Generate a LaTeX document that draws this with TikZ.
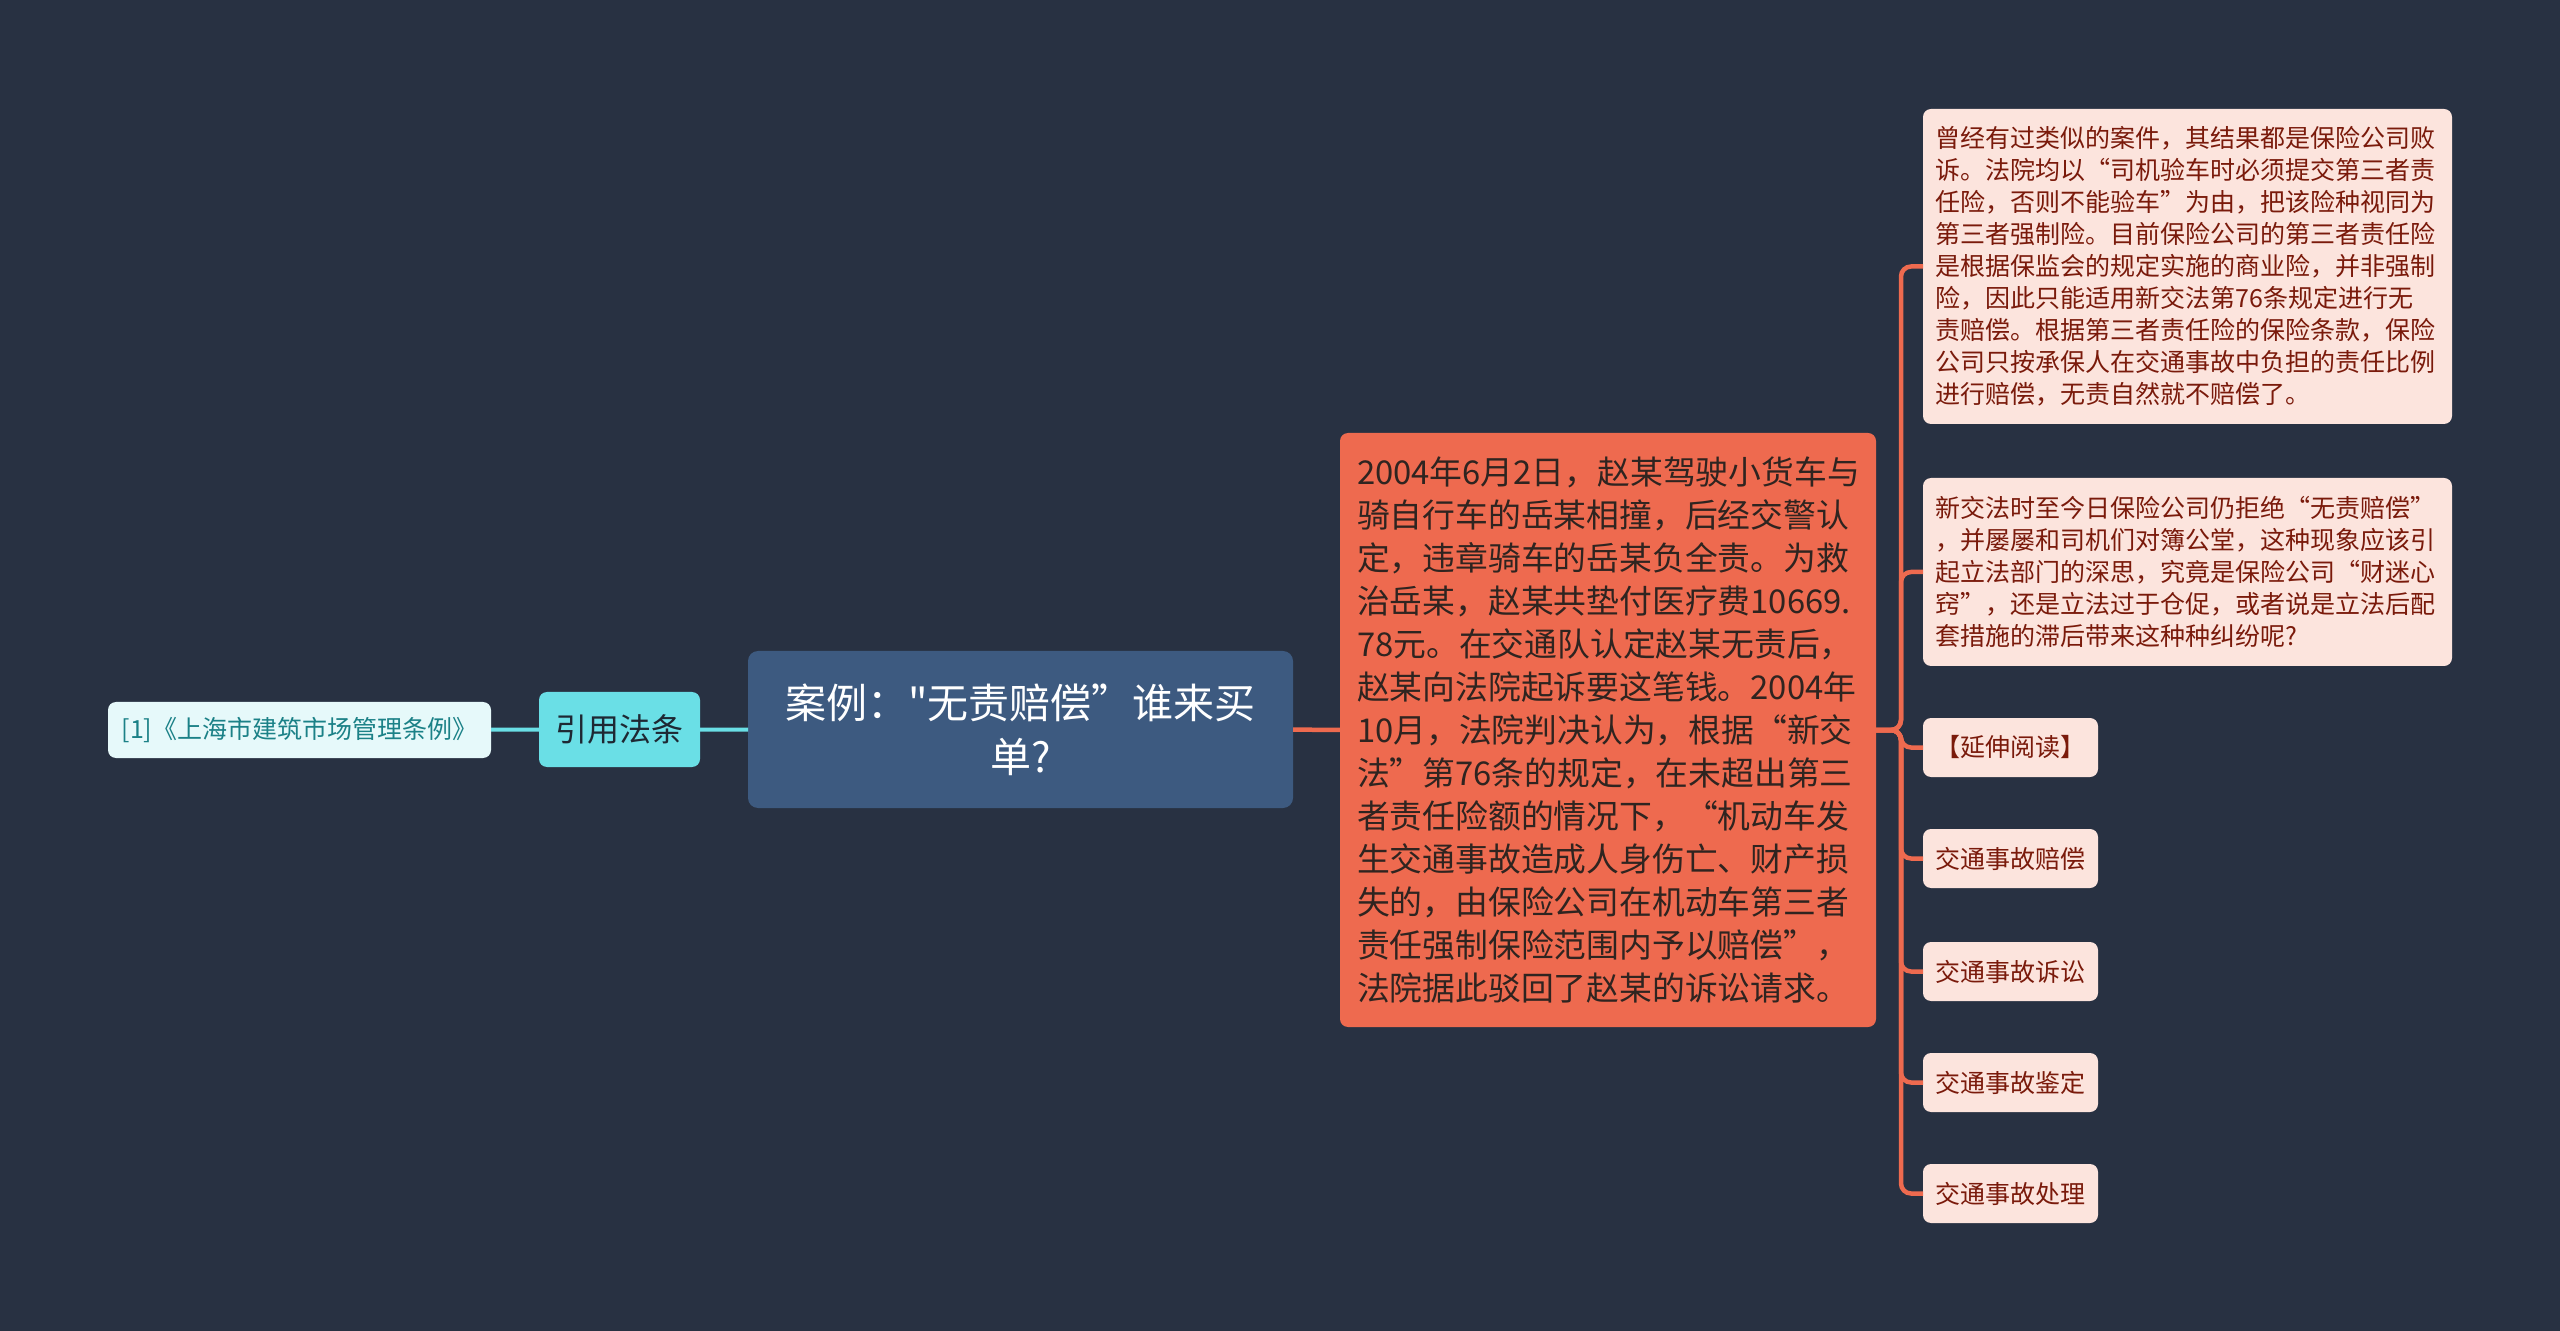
\documentclass[tikz,border=0pt]{standalone}
\usepackage{fontspec}
\setmainfont{Noto Sans CJK SC}
\newfontfamily\plainfont{Noto Sans CJK SC}
\definecolor{bgc}{HTML}{283142}
\definecolor{rootc}{HTML}{3D5A80}
\definecolor{casec}{HTML}{EE6A4F}
\definecolor{casetext}{HTML}{2F2420}
\definecolor{notec}{HTML}{FCE4DD}
\definecolor{notetext}{HTML}{7A1A0B}
\definecolor{citec}{HTML}{6ADFE6}
\definecolor{citetext}{HTML}{1E2833}
\definecolor{leafc}{HTML}{E6F9FA}
\definecolor{leaftext}{HTML}{1B8187}
\tikzset{
	box/.style={rounded corners=4pt,inner sep=0pt,outer sep=0pt},
	rootbox/.style={box,rounded corners=5pt,fill=rootc,text=white,minimum width=272.5pt,minimum height=78.5pt,align=center,font=\plainfont\fontsize{20.5}{27}\selectfont},
	casebox/.style={box,fill=casec,text=casetext,text width=251pt,inner xsep=8.5pt,minimum height=297pt,align=left,font=\fontsize{16.4}{21.5}\selectfont},
	notebox/.style={box,fill=notec,text=notetext,text width=252pt,inner xsep=6.25pt,align=left,font=\fontsize{12.5}{16}\selectfont},
	tagbox/.style={box,fill=notec,text=notetext,minimum width=87.5pt,minimum height=29.5pt,font=\fontsize{12.5}{16}\selectfont},
	citebox/.style={box,fill=citec,text=citetext,minimum width=80.5pt,minimum height=37.5pt,font=\fontsize{16}{20}\selectfont},
	leafbox/.style={box,fill=leafc,text=leaftext,minimum width=191.5pt,minimum height=28pt,font=\fontsize{12.5}{16}\selectfont},
	cyanline/.style={draw=citec,line width=2pt},
	orangeline/.style={draw=casec,line width=2.25pt,rounded corners=5pt}
}
\begin{document}
\begin{tikzpicture}[x=0.5pt,y=-0.5pt]
		\fill[bgc] (0,0) rectangle (2560,1331);
		\useasboundingbox (0,0) rectangle (2560,1331);
		\node[rootbox] (root) at (1020.5,729.5) {案例："无责赔偿”谁来买\\单?};
		\node[citebox] (cite) at (619.5,729.5) {引用法条};
		\node[leafbox] (law) at (299.5,730) {[1]《上海市建筑市场管理条例》};
		\node[casebox] (case) at (1608,730) {2004年6月2日，赵某驾驶小货车与\\骑自行车的岳某相撞，后经交警认\\定，违章骑车的岳某负全责。为救\\治岳某，赵某共垫付医疗费10669.\\78元。在交通队认定赵某无责后，\\赵某向法院起诉要这笔钱。2004年\\10月，法院判决认为，根据“新交\\法”第76条的规定，在未超出第三\\者责任险额的情况下，“机动车发\\生交通事故造成人身伤亡、财产损\\失的，由保险公司在机动车第三者\\责任强制保险范围内予以赔偿”，\\法院据此驳回了赵某的诉讼请求。};
		\node[notebox,minimum height=157.5pt] (past) at (2187.5,266.5) {曾经有过类似的案件，其结果都是保险公司败\\诉。法院均以“司机验车时必须提交第三者责\\任险，否则不能验车”为由，把该险种视同为\\第三者强制险。目前保险公司的第三者责任险\\是根据保监会的规定实施的商业险，并非强制\\险，因此只能适用新交法第76条规定进行无\\责赔偿。根据第三者责任险的保险条款，保险\\公司只按承保人在交通事故中负担的责任比例\\进行赔偿，无责自然就不赔偿了。};
		\node[notebox,minimum height=94pt] (doubt) at (2187.5,572) {新交法时至今日保险公司仍拒绝“无责赔偿”\\，并屡屡和司机们对簿公堂，这种现象应该引\\起立法部门的深思，究竟是保险公司“财迷心\\窍”，还是立法过于仓促，或者说是立法后配\\套措施的滞后带来这种种纠纷呢?};
		\node[tagbox] (more) at (2010.5,747.5) {【延伸阅读】};
		\node[tagbox] (pay) at (2010.5,858.5) {交通事故赔偿};
		\node[tagbox] (suit) at (2010.5,971.5) {交通事故诉讼};
		\node[tagbox] (judge) at (2010.5,1082.5) {交通事故鉴定};
		\node[tagbox] (deal) at (2010.5,1193.5) {交通事故处理};
		\draw[cyanline] (law) -- (cite) (cite) -- (root);
		\draw[orangeline] (root) -- (case);
		\foreach \n in {past,doubt,more,pay,suit,judge,deal}
			\draw[orangeline] (case.east) -- ++(25,0) |- (\n.west);
	\end{tikzpicture}
\end{document}
